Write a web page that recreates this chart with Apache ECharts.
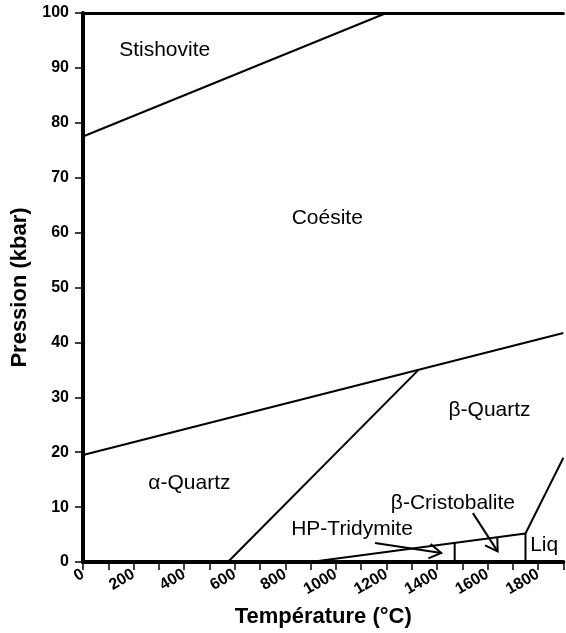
<!DOCTYPE html>
<html>
<head>
<meta charset="utf-8">
<script src="https://cdn.jsdelivr.net/npm/echarts@6/dist/echarts.min.js"></script>
<style>html,body{margin:0;padding:0;background:#fff}#c{width:566px;height:633px}</style>
</head>
<body>
<div id="c"></div>
<script>
// Phase boundaries [T (°C), P (kbar)]
var stishoviteCoesite = [[0, 77.5], [1200, 100]];
var coesiteQuartz = [[0, 19.5], [1900, 41.7]];
var alphaBetaQuartz = [[573, 0], [1327, 35]];
var tridymiteTop = [[900, 0], [1750, 5.2]];
var tridymiteCristobalite = [[1470, 0], [1470, 3.5]];
var cristobaliteLiquid = [[1750, 0], [1750, 5.2]];
var liquidus = [[1750, 5.2], [1900, 19]];
// Arrows [T0, P0, T1, P1]
var arrows = [[1155, 3.46, 1417, 1.65], [1542, 8.9, 1640, 1.93]];
// Field labels
var fieldNames = ['Stishovite', 'Coésite', 'β-Quartz', 'α-Quartz', 'β-Cristobalite', 'HP-Tridymite', 'Liq'];
var fieldT = [323, 966, 1608, 421, 1463, 1064, 1824];
var fieldP = [93.3, 62.7, 27.7, 14.4, 10.8, 5.9, 3.15];

var FONT = 'Liberation Sans, Arial, sans-serif';
function boundary(d) {
  return {type: 'line', data: d, symbol: 'none', silent: true,
    lineStyle: {color: '#000', width: 2}, animation: false};
}
var labelData = fieldNames.map(function (n, i) { return {name: n, value: [fieldT[i], fieldP[i]]}; });

var chart = echarts.init(document.getElementById('c'));
chart.setOption({
  animation: false,
  grid: {left: 83, right: 0, top: 13, bottom: 71},
  xAxis: [{
    type: 'value', min: 0, max: 1900, interval: 100,
    name: 'Température (°C)', nameLocation: 'middle', nameGap: 44,
    nameTextStyle: {fontFamily: FONT, fontWeight: 'bold', fontSize: 22, color: '#000'},
    axisLine: {onZero: false, lineStyle: {color: '#000', width: 4}},
    axisTick: {length: 8, lineStyle: {color: '#000', width: 1.5}},
    axisLabel: {rotate: 30, margin: 11, color: '#000', fontFamily: FONT, fontWeight: 'bold', fontSize: 16,
      formatter: function (v) { return v % 200 === 0 ? String(v) : ''; }},
    splitLine: {show: false}
  }, {
    type: 'value', min: 0, max: 1900, position: 'top',
    axisLine: {show: true, onZero: false, lineStyle: {color: '#000', width: 3}},
    axisTick: {show: false}, axisLabel: {show: false}, splitLine: {show: false}
  }],
  yAxis: {
    type: 'value', min: 0, max: 100, interval: 10,
    name: 'Pression (kbar)', nameLocation: 'middle', nameGap: 52,
    nameTextStyle: {fontFamily: FONT, fontWeight: 'bold', fontSize: 22, color: '#000'},
    axisLine: {show: true, onZero: false, lineStyle: {color: '#000', width: 4}},
    axisTick: {show: true, length: 8, lineStyle: {color: '#000', width: 1.5}},
    axisLabel: {margin: 14, color: '#000', fontFamily: FONT, fontWeight: 'bold', fontSize: 16},
    splitLine: {show: false}
  },
  series: [
    boundary(stishoviteCoesite),
    boundary(coesiteQuartz),
    boundary(alphaBetaQuartz),
    boundary(tridymiteTop),
    boundary(tridymiteCristobalite),
    boundary(cristobaliteLiquid),
    boundary(liquidus),
    {
      type: 'custom', data: arrows, silent: true,
      renderItem: function (params, api) {
        var p0 = api.coord([api.value(0), api.value(1)]);
        var p1 = api.coord([api.value(2), api.value(3)]);
        var ang = Math.atan2(p1[1] - p0[1], p1[0] - p0[0]);
        var L = 14, a = 0.55;
        var b1 = [p1[0] - L * Math.cos(ang - a), p1[1] - L * Math.sin(ang - a)];
        var b2 = [p1[0] - L * Math.cos(ang + a), p1[1] - L * Math.sin(ang + a)];
        var st = {stroke: '#000', lineWidth: 2, fill: null};
        return {type: 'group', children: [
          {type: 'polyline', shape: {points: [p0, p1]}, style: st},
          {type: 'polyline', shape: {points: [b1, p1, b2]}, style: st}
        ]};
      }
    },
    {
      type: 'scatter', data: labelData, symbolSize: 0, silent: true,
      itemStyle: {opacity: 1},
      label: {show: true, position: 'inside', formatter: function (p) { return p.name; },
        fontFamily: FONT, fontSize: 21, color: '#000', textBorderWidth: 0, opacity: 1}
    }
  ]
});
</script>
</body>
</html>
